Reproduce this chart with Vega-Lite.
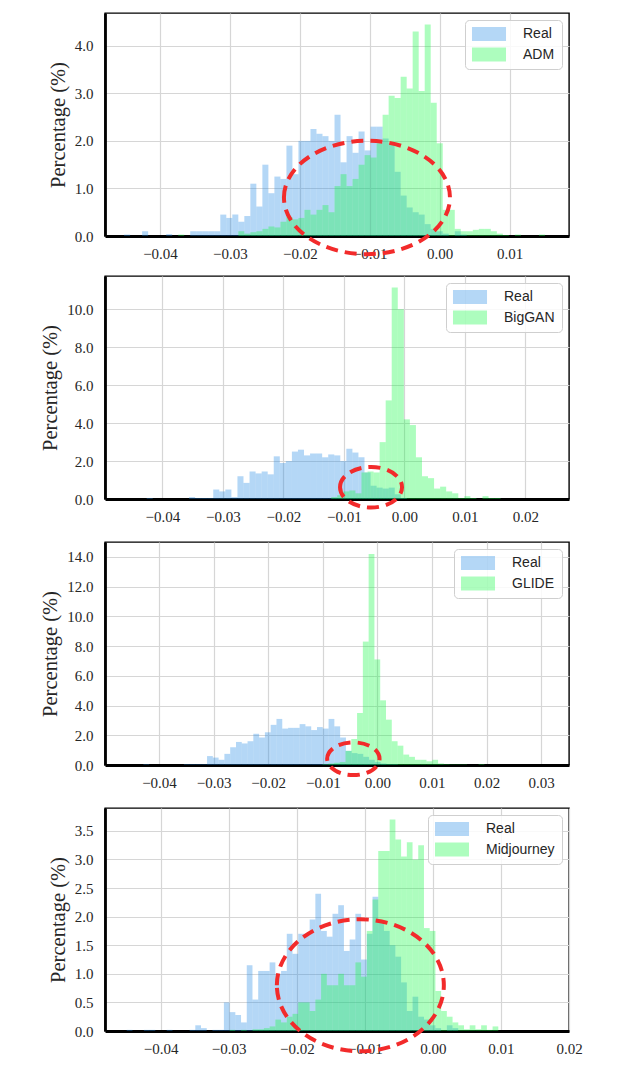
{
  "$schema": "https://vega.github.io/schema/vega-lite/v6.json",
  "background": "white",
  "padding": {"left": 40, "top": 12, "right": 4, "bottom": 4},
  "config": {
    "view": {"stroke": "#000000", "strokeWidth": 1.4},
    "axis": {
      "grid": true, "gridColor": "#d6d6d6", "gridWidth": 1.2,
      "domainColor": "#000000", "domainWidth": 2.8,
      "ticks": false, "tickSize": 0, "tickCount": 20,
      "labelFont": "Liberation Serif", "labelFontSize": 15, "labelColor": "#262626",
      "labelOverlap": false, "labelFlush": false, "labelBound": false,
      "titleFont": "Liberation Serif", "titleFontSize": 20.5, "titleFontWeight": "normal", "titleColor": "#262626"
    },
    "axisX": {"labelPadding": 10},
    "axisY": {"labelPadding": 12, "titlePadding": 6},
    "legend": {
      "orient": "top-right", "offset": 7, "title": null, "padding": 7,
      "fillColor": "rgba(255,255,255,0.85)", "strokeColor": "#cfcfcf", "cornerRadius": 4,
      "labelFont": "Liberation Sans", "labelFontSize": 14, "labelColor": "#262626",
      "symbolType": "M-2.43,-1H2.43V1H-2.43Z", "symbolSize": 196,
      "symbolOffset": 10, "labelOffset": 27, "rowPadding": 6.5,
      "symbolOpacity": 0.35, "symbolStrokeWidth": 0
    }
  },
  "datasets": {
    "h1": [
      {"s":"ADM","a":-0.0374,"b":-0.03654,"v":0.03},
      {"s":"ADM","a":-0.0288,"b":-0.02794,"v":0.1},
      {"s":"ADM","a":-0.02794,"b":-0.02708,"v":0.05},
      {"s":"ADM","a":-0.02708,"b":-0.02622,"v":0.08},
      {"s":"ADM","a":-0.02622,"b":-0.02536,"v":0.1},
      {"s":"ADM","a":-0.02536,"b":-0.0245,"v":0.15},
      {"s":"ADM","a":-0.0245,"b":-0.02364,"v":0.2},
      {"s":"ADM","a":-0.02364,"b":-0.02278,"v":0.18},
      {"s":"ADM","a":-0.02278,"b":-0.02192,"v":0.3},
      {"s":"ADM","a":-0.02192,"b":-0.02106,"v":0.4},
      {"s":"ADM","a":-0.02106,"b":-0.0202,"v":0.35},
      {"s":"ADM","a":-0.0202,"b":-0.01934,"v":0.38},
      {"s":"ADM","a":-0.01934,"b":-0.01848,"v":0.55},
      {"s":"ADM","a":-0.01848,"b":-0.01762,"v":0.45},
      {"s":"ADM","a":-0.01762,"b":-0.01676,"v":0.55},
      {"s":"ADM","a":-0.01676,"b":-0.0159,"v":0.65},
      {"s":"ADM","a":-0.0159,"b":-0.01504,"v":0.5},
      {"s":"ADM","a":-0.01504,"b":-0.01418,"v":1.05},
      {"s":"ADM","a":-0.01418,"b":-0.01332,"v":1.3},
      {"s":"ADM","a":-0.01332,"b":-0.01246,"v":1.05},
      {"s":"ADM","a":-0.01246,"b":-0.0116,"v":1.2},
      {"s":"ADM","a":-0.0116,"b":-0.01074,"v":1.5},
      {"s":"ADM","a":-0.01074,"b":-0.00988,"v":1.7},
      {"s":"ADM","a":-0.00988,"b":-0.00902,"v":1.65},
      {"s":"ADM","a":-0.00902,"b":-0.00816,"v":1.95},
      {"s":"ADM","a":-0.00816,"b":-0.0073,"v":2.55},
      {"s":"ADM","a":-0.0073,"b":-0.00644,"v":2.95},
      {"s":"ADM","a":-0.00644,"b":-0.00558,"v":2.9},
      {"s":"ADM","a":-0.00558,"b":-0.00472,"v":3.35},
      {"s":"ADM","a":-0.00472,"b":-0.00386,"v":3.1},
      {"s":"ADM","a":-0.00386,"b":-0.003,"v":4.3},
      {"s":"ADM","a":-0.003,"b":-0.00214,"v":3.05},
      {"s":"ADM","a":-0.00214,"b":-0.00128,"v":4.45},
      {"s":"ADM","a":-0.00128,"b":-0.00042,"v":2.8},
      {"s":"ADM","a":-0.00042,"b":0.00044,"v":1.95},
      {"s":"ADM","a":0.00044,"b":0.0013,"v":0.55},
      {"s":"ADM","a":0.0013,"b":0.00216,"v":0.55},
      {"s":"ADM","a":0.00216,"b":0.00302,"v":0.15},
      {"s":"ADM","a":0.00302,"b":0.00388,"v":0.1},
      {"s":"ADM","a":0.00388,"b":0.00474,"v":0.1},
      {"s":"ADM","a":0.00474,"b":0.0056,"v":0.13},
      {"s":"ADM","a":0.0056,"b":0.00646,"v":0.15},
      {"s":"ADM","a":0.00646,"b":0.00732,"v":0.15},
      {"s":"ADM","a":0.00732,"b":0.00818,"v":0.1},
      {"s":"ADM","a":0.00818,"b":0.00904,"v":0.05},
      {"s":"ADM","a":0.00904,"b":0.0099,"v":0.02},
      {"s":"ADM","a":0.01076,"b":0.01162,"v":0.03},
      {"s":"ADM","a":0.0142,"b":0.01506,"v":0.03},
      {"s":"Real","a":-0.04514,"b":-0.04428,"v":0.03},
      {"s":"Real","a":-0.04256,"b":-0.0417,"v":0.1},
      {"s":"Real","a":-0.03912,"b":-0.03826,"v":0.04},
      {"s":"Real","a":-0.03568,"b":-0.03482,"v":0.1},
      {"s":"Real","a":-0.03482,"b":-0.03396,"v":0.1},
      {"s":"Real","a":-0.03396,"b":-0.0331,"v":0.1},
      {"s":"Real","a":-0.0331,"b":-0.03224,"v":0.1},
      {"s":"Real","a":-0.03224,"b":-0.03138,"v":0.1},
      {"s":"Real","a":-0.03138,"b":-0.03052,"v":0.45},
      {"s":"Real","a":-0.03052,"b":-0.02966,"v":0.38},
      {"s":"Real","a":-0.02966,"b":-0.0288,"v":0.45},
      {"s":"Real","a":-0.0288,"b":-0.02794,"v":0.3},
      {"s":"Real","a":-0.02794,"b":-0.02708,"v":0.42},
      {"s":"Real","a":-0.02708,"b":-0.02622,"v":1.1},
      {"s":"Real","a":-0.02622,"b":-0.02536,"v":0.62},
      {"s":"Real","a":-0.02536,"b":-0.0245,"v":1.5},
      {"s":"Real","a":-0.0245,"b":-0.02364,"v":0.9},
      {"s":"Real","a":-0.02364,"b":-0.02278,"v":1.25},
      {"s":"Real","a":-0.02278,"b":-0.02192,"v":1.2},
      {"s":"Real","a":-0.02192,"b":-0.02106,"v":1.9},
      {"s":"Real","a":-0.02106,"b":-0.0202,"v":1.3},
      {"s":"Real","a":-0.0202,"b":-0.01934,"v":2.0},
      {"s":"Real","a":-0.01934,"b":-0.01848,"v":2.0},
      {"s":"Real","a":-0.01848,"b":-0.01762,"v":2.25},
      {"s":"Real","a":-0.01762,"b":-0.01676,"v":2.15},
      {"s":"Real","a":-0.01676,"b":-0.0159,"v":2.1},
      {"s":"Real","a":-0.0159,"b":-0.01504,"v":2.0},
      {"s":"Real","a":-0.01504,"b":-0.01418,"v":2.55},
      {"s":"Real","a":-0.01418,"b":-0.01332,"v":1.55},
      {"s":"Real","a":-0.01332,"b":-0.01246,"v":2.1},
      {"s":"Real","a":-0.01246,"b":-0.0116,"v":1.75},
      {"s":"Real","a":-0.0116,"b":-0.01074,"v":2.2},
      {"s":"Real","a":-0.01074,"b":-0.00988,"v":1.8},
      {"s":"Real","a":-0.00988,"b":-0.00902,"v":2.3},
      {"s":"Real","a":-0.00902,"b":-0.00816,"v":2.3},
      {"s":"Real","a":-0.00816,"b":-0.0073,"v":2.05},
      {"s":"Real","a":-0.0073,"b":-0.00644,"v":1.95},
      {"s":"Real","a":-0.00644,"b":-0.00558,"v":1.35},
      {"s":"Real","a":-0.00558,"b":-0.00472,"v":0.85},
      {"s":"Real","a":-0.00472,"b":-0.00386,"v":0.6},
      {"s":"Real","a":-0.00386,"b":-0.003,"v":0.5},
      {"s":"Real","a":-0.003,"b":-0.00214,"v":0.45},
      {"s":"Real","a":-0.00214,"b":-0.00128,"v":0.25},
      {"s":"Real","a":-0.00128,"b":-0.00042,"v":0.15},
      {"s":"Real","a":-0.00042,"b":0.00044,"v":0.1},
      {"s":"Real","a":0.00044,"b":0.0013,"v":0.05},
      {"s":"Real","a":0.00216,"b":0.00302,"v":0.1},
      {"s":"Real","a":0.00302,"b":0.00388,"v":0.03}
    ],
    "h2": [
      {"s":"BigGAN","a":-0.0121,"b":-0.0111,"v":0.1},
      {"s":"BigGAN","a":-0.0111,"b":-0.0101,"v":0.2},
      {"s":"BigGAN","a":-0.0101,"b":-0.0091,"v":0.4},
      {"s":"BigGAN","a":-0.0091,"b":-0.0081,"v":0.45},
      {"s":"BigGAN","a":-0.0081,"b":-0.0071,"v":0.3},
      {"s":"BigGAN","a":-0.0071,"b":-0.0061,"v":1.4},
      {"s":"BigGAN","a":-0.0061,"b":-0.0051,"v":1.45},
      {"s":"BigGAN","a":-0.0051,"b":-0.0041,"v":1.4},
      {"s":"BigGAN","a":-0.0041,"b":-0.0031,"v":3.0},
      {"s":"BigGAN","a":-0.0031,"b":-0.0021,"v":5.2},
      {"s":"BigGAN","a":-0.0021,"b":-0.0011,"v":11.15},
      {"s":"BigGAN","a":-0.0011,"b":-0.0001,"v":10.0},
      {"s":"BigGAN","a":-0.0001,"b":0.0009,"v":4.2},
      {"s":"BigGAN","a":0.0009,"b":0.0019,"v":3.9},
      {"s":"BigGAN","a":0.0019,"b":0.0029,"v":2.2},
      {"s":"BigGAN","a":0.0029,"b":0.0039,"v":1.2},
      {"s":"BigGAN","a":0.0039,"b":0.0049,"v":1.1},
      {"s":"BigGAN","a":0.0049,"b":0.0059,"v":0.55},
      {"s":"BigGAN","a":0.0059,"b":0.0069,"v":0.65},
      {"s":"BigGAN","a":0.0069,"b":0.0079,"v":0.4},
      {"s":"BigGAN","a":0.0079,"b":0.0089,"v":0.3},
      {"s":"BigGAN","a":0.0089,"b":0.0099,"v":0.05},
      {"s":"BigGAN","a":0.0099,"b":0.0109,"v":0.15},
      {"s":"BigGAN","a":0.0109,"b":0.0119,"v":0.05},
      {"s":"BigGAN","a":0.0129,"b":0.0139,"v":0.15},
      {"s":"BigGAN","a":0.0139,"b":0.0149,"v":0.05},
      {"s":"BigGAN","a":0.0149,"b":0.0159,"v":0.05},
      {"s":"Real","a":-0.0426,"b":-0.0416,"v":0.05},
      {"s":"Real","a":-0.0356,"b":-0.0346,"v":0.1},
      {"s":"Real","a":-0.0346,"b":-0.0336,"v":0.05},
      {"s":"Real","a":-0.0336,"b":-0.0326,"v":0.05},
      {"s":"Real","a":-0.0326,"b":-0.0316,"v":0.05},
      {"s":"Real","a":-0.0316,"b":-0.0306,"v":0.5},
      {"s":"Real","a":-0.0306,"b":-0.0296,"v":0.4},
      {"s":"Real","a":-0.0296,"b":-0.0286,"v":0.5},
      {"s":"Real","a":-0.0286,"b":-0.0276,"v":0.1},
      {"s":"Real","a":-0.0276,"b":-0.0266,"v":1.2},
      {"s":"Real","a":-0.0266,"b":-0.0256,"v":0.85},
      {"s":"Real","a":-0.0256,"b":-0.0246,"v":1.45},
      {"s":"Real","a":-0.0246,"b":-0.0236,"v":1.35},
      {"s":"Real","a":-0.0236,"b":-0.0226,"v":1.45},
      {"s":"Real","a":-0.0226,"b":-0.0216,"v":1.3},
      {"s":"Real","a":-0.0216,"b":-0.0206,"v":2.25},
      {"s":"Real","a":-0.0206,"b":-0.0196,"v":1.9},
      {"s":"Real","a":-0.0196,"b":-0.0186,"v":2.0},
      {"s":"Real","a":-0.0186,"b":-0.0176,"v":2.5},
      {"s":"Real","a":-0.0176,"b":-0.0166,"v":2.6},
      {"s":"Real","a":-0.0166,"b":-0.0156,"v":2.3},
      {"s":"Real","a":-0.0156,"b":-0.0146,"v":2.4},
      {"s":"Real","a":-0.0146,"b":-0.0136,"v":2.4},
      {"s":"Real","a":-0.0136,"b":-0.0126,"v":2.2},
      {"s":"Real","a":-0.0126,"b":-0.0116,"v":2.35},
      {"s":"Real","a":-0.0116,"b":-0.0106,"v":2.3},
      {"s":"Real","a":-0.0106,"b":-0.0096,"v":2.0},
      {"s":"Real","a":-0.0096,"b":-0.0086,"v":2.65},
      {"s":"Real","a":-0.0086,"b":-0.0076,"v":2.45},
      {"s":"Real","a":-0.0076,"b":-0.0066,"v":2.2},
      {"s":"Real","a":-0.0066,"b":-0.0056,"v":1.4},
      {"s":"Real","a":-0.0056,"b":-0.0046,"v":0.7},
      {"s":"Real","a":-0.0046,"b":-0.0036,"v":0.6},
      {"s":"Real","a":-0.0036,"b":-0.0026,"v":0.55},
      {"s":"Real","a":-0.0026,"b":-0.0016,"v":0.6},
      {"s":"Real","a":-0.0016,"b":-0.0006,"v":0.25},
      {"s":"Real","a":-0.0006,"b":0.0004,"v":0.05}
    ],
    "h3": [
      {"s":"GLIDE","a":-0.01008,"b":-0.00902,"v":0.05},
      {"s":"GLIDE","a":-0.00902,"b":-0.00796,"v":0.1},
      {"s":"GLIDE","a":-0.00796,"b":-0.0069,"v":0.15},
      {"s":"GLIDE","a":-0.0069,"b":-0.00584,"v":0.2},
      {"s":"GLIDE","a":-0.00584,"b":-0.00478,"v":0.95},
      {"s":"GLIDE","a":-0.00478,"b":-0.00372,"v":1.75},
      {"s":"GLIDE","a":-0.00372,"b":-0.00266,"v":3.5},
      {"s":"GLIDE","a":-0.00266,"b":-0.0016,"v":8.3},
      {"s":"GLIDE","a":-0.0016,"b":-0.00054,"v":14.2},
      {"s":"GLIDE","a":-0.00054,"b":0.00052,"v":7.1},
      {"s":"GLIDE","a":0.00052,"b":0.00158,"v":4.35},
      {"s":"GLIDE","a":0.00158,"b":0.00264,"v":3.05},
      {"s":"GLIDE","a":0.00264,"b":0.0037,"v":1.6},
      {"s":"GLIDE","a":0.0037,"b":0.00476,"v":1.3},
      {"s":"GLIDE","a":0.00476,"b":0.00582,"v":0.7},
      {"s":"GLIDE","a":0.00582,"b":0.00688,"v":0.55},
      {"s":"GLIDE","a":0.00688,"b":0.00794,"v":0.35},
      {"s":"GLIDE","a":0.00794,"b":0.009,"v":0.35},
      {"s":"GLIDE","a":0.009,"b":0.01006,"v":0.25},
      {"s":"GLIDE","a":0.01006,"b":0.01112,"v":0.35},
      {"s":"GLIDE","a":0.01112,"b":0.01218,"v":0.1},
      {"s":"GLIDE","a":0.01218,"b":0.01324,"v":0.05},
      {"s":"GLIDE","a":0.01324,"b":0.0143,"v":0.03},
      {"s":"GLIDE","a":0.0143,"b":0.01536,"v":0.03},
      {"s":"GLIDE","a":0.01536,"b":0.01642,"v":0.03},
      {"s":"GLIDE","a":0.01854,"b":0.0196,"v":0.05},
      {"s":"Real","a":-0.04286,"b":-0.0418,"v":0.05},
      {"s":"Real","a":-0.03544,"b":-0.03438,"v":0.05},
      {"s":"Real","a":-0.03438,"b":-0.03332,"v":0.05},
      {"s":"Real","a":-0.03332,"b":-0.03226,"v":0.05},
      {"s":"Real","a":-0.03226,"b":-0.0312,"v":0.05},
      {"s":"Real","a":-0.0312,"b":-0.03014,"v":0.6},
      {"s":"Real","a":-0.03014,"b":-0.02908,"v":0.5},
      {"s":"Real","a":-0.02908,"b":-0.02802,"v":0.35},
      {"s":"Real","a":-0.02802,"b":-0.02696,"v":0.75},
      {"s":"Real","a":-0.02696,"b":-0.0259,"v":1.2},
      {"s":"Real","a":-0.0259,"b":-0.02484,"v":1.55},
      {"s":"Real","a":-0.02484,"b":-0.02378,"v":1.45},
      {"s":"Real","a":-0.02378,"b":-0.02272,"v":1.6},
      {"s":"Real","a":-0.02272,"b":-0.02166,"v":2.1},
      {"s":"Real","a":-0.02166,"b":-0.0206,"v":1.85},
      {"s":"Real","a":-0.0206,"b":-0.01954,"v":2.2},
      {"s":"Real","a":-0.01954,"b":-0.01848,"v":2.7},
      {"s":"Real","a":-0.01848,"b":-0.01742,"v":3.1},
      {"s":"Real","a":-0.01742,"b":-0.01636,"v":2.45},
      {"s":"Real","a":-0.01636,"b":-0.0153,"v":2.5},
      {"s":"Real","a":-0.0153,"b":-0.01424,"v":2.5},
      {"s":"Real","a":-0.01424,"b":-0.01318,"v":2.75},
      {"s":"Real","a":-0.01318,"b":-0.01212,"v":2.6},
      {"s":"Real","a":-0.01212,"b":-0.01106,"v":2.35},
      {"s":"Real","a":-0.01106,"b":-0.01,"v":2.55},
      {"s":"Real","a":-0.01,"b":-0.00894,"v":2.45},
      {"s":"Real","a":-0.00894,"b":-0.00788,"v":3.1},
      {"s":"Real","a":-0.00788,"b":-0.00682,"v":2.6},
      {"s":"Real","a":-0.00682,"b":-0.00576,"v":1.85},
      {"s":"Real","a":-0.00576,"b":-0.0047,"v":0.95},
      {"s":"Real","a":-0.0047,"b":-0.00364,"v":0.8},
      {"s":"Real","a":-0.00364,"b":-0.00258,"v":0.75},
      {"s":"Real","a":-0.00258,"b":-0.00152,"v":0.55},
      {"s":"Real","a":-0.00152,"b":-0.00046,"v":0.35},
      {"s":"Real","a":-0.00046,"b":0.0006,"v":0.2},
      {"s":"Real","a":0.0006,"b":0.00166,"v":0.1},
      {"s":"Real","a":0.00166,"b":0.00272,"v":0.05},
      {"s":"Real","a":0.00272,"b":0.00378,"v":0.05}
    ],
    "h4": [
      {"s":"Midjourney","a":-0.02987,"b":-0.02903,"v":0.02},
      {"s":"Midjourney","a":-0.02819,"b":-0.02735,"v":0.02},
      {"s":"Midjourney","a":-0.02651,"b":-0.02567,"v":0.03},
      {"s":"Midjourney","a":-0.02567,"b":-0.02483,"v":0.03},
      {"s":"Midjourney","a":-0.02483,"b":-0.02399,"v":0.05},
      {"s":"Midjourney","a":-0.02399,"b":-0.02315,"v":0.08},
      {"s":"Midjourney","a":-0.02315,"b":-0.02231,"v":0.2},
      {"s":"Midjourney","a":-0.02231,"b":-0.02147,"v":0.15},
      {"s":"Midjourney","a":-0.02147,"b":-0.02063,"v":0.25},
      {"s":"Midjourney","a":-0.02063,"b":-0.01979,"v":0.3},
      {"s":"Midjourney","a":-0.01979,"b":-0.01895,"v":0.5},
      {"s":"Midjourney","a":-0.01895,"b":-0.01811,"v":0.5},
      {"s":"Midjourney","a":-0.01811,"b":-0.01727,"v":0.35},
      {"s":"Midjourney","a":-0.01727,"b":-0.01643,"v":0.55},
      {"s":"Midjourney","a":-0.01643,"b":-0.01559,"v":1.0},
      {"s":"Midjourney","a":-0.01559,"b":-0.01475,"v":0.8},
      {"s":"Midjourney","a":-0.01475,"b":-0.01391,"v":0.8},
      {"s":"Midjourney","a":-0.01391,"b":-0.01307,"v":1.0},
      {"s":"Midjourney","a":-0.01307,"b":-0.01223,"v":0.8},
      {"s":"Midjourney","a":-0.01223,"b":-0.01139,"v":0.8},
      {"s":"Midjourney","a":-0.01139,"b":-0.01055,"v":1.2},
      {"s":"Midjourney","a":-0.01055,"b":-0.00971,"v":0.95},
      {"s":"Midjourney","a":-0.00971,"b":-0.00887,"v":1.75},
      {"s":"Midjourney","a":-0.00887,"b":-0.00803,"v":2.3},
      {"s":"Midjourney","a":-0.00803,"b":-0.00719,"v":3.15},
      {"s":"Midjourney","a":-0.00719,"b":-0.00635,"v":3.15},
      {"s":"Midjourney","a":-0.00635,"b":-0.00551,"v":3.7},
      {"s":"Midjourney","a":-0.00551,"b":-0.00467,"v":3.35},
      {"s":"Midjourney","a":-0.00467,"b":-0.00383,"v":3.05},
      {"s":"Midjourney","a":-0.00383,"b":-0.00299,"v":3.3},
      {"s":"Midjourney","a":-0.00299,"b":-0.00215,"v":3.0},
      {"s":"Midjourney","a":-0.00215,"b":-0.00131,"v":3.25},
      {"s":"Midjourney","a":-0.00131,"b":-0.00047,"v":1.8},
      {"s":"Midjourney","a":-0.00047,"b":0.00037,"v":1.75},
      {"s":"Midjourney","a":0.00037,"b":0.00121,"v":0.7},
      {"s":"Midjourney","a":0.00121,"b":0.00205,"v":0.35},
      {"s":"Midjourney","a":0.00205,"b":0.00289,"v":0.25},
      {"s":"Midjourney","a":0.00289,"b":0.00373,"v":0.15},
      {"s":"Midjourney","a":0.00373,"b":0.00457,"v":0.1},
      {"s":"Midjourney","a":0.00457,"b":0.00541,"v":0.03},
      {"s":"Midjourney","a":0.00541,"b":0.00625,"v":0.1},
      {"s":"Midjourney","a":0.00625,"b":0.00709,"v":0.03},
      {"s":"Midjourney","a":0.00709,"b":0.00793,"v":0.1},
      {"s":"Midjourney","a":0.00793,"b":0.00877,"v":0.02},
      {"s":"Midjourney","a":0.00877,"b":0.00961,"v":0.08},
      {"s":"Real","a":-0.04499,"b":-0.04415,"v":0.02},
      {"s":"Real","a":-0.04247,"b":-0.04163,"v":0.02},
      {"s":"Real","a":-0.04163,"b":-0.04079,"v":0.02},
      {"s":"Real","a":-0.03911,"b":-0.03827,"v":0.02},
      {"s":"Real","a":-0.03575,"b":-0.03491,"v":0.02},
      {"s":"Real","a":-0.03491,"b":-0.03407,"v":0.1},
      {"s":"Real","a":-0.03407,"b":-0.03323,"v":0.05},
      {"s":"Real","a":-0.03239,"b":-0.03155,"v":0.02},
      {"s":"Real","a":-0.03155,"b":-0.03071,"v":0.02},
      {"s":"Real","a":-0.03071,"b":-0.02987,"v":0.5},
      {"s":"Real","a":-0.02987,"b":-0.02903,"v":0.33},
      {"s":"Real","a":-0.02903,"b":-0.02819,"v":0.28},
      {"s":"Real","a":-0.02819,"b":-0.02735,"v":0.15},
      {"s":"Real","a":-0.02735,"b":-0.02651,"v":1.15},
      {"s":"Real","a":-0.02651,"b":-0.02567,"v":0.55},
      {"s":"Real","a":-0.02567,"b":-0.02483,"v":1.05},
      {"s":"Real","a":-0.02483,"b":-0.02399,"v":1.05},
      {"s":"Real","a":-0.02399,"b":-0.02315,"v":1.2},
      {"s":"Real","a":-0.02315,"b":-0.02231,"v":1.0},
      {"s":"Real","a":-0.02231,"b":-0.02147,"v":1.05},
      {"s":"Real","a":-0.02147,"b":-0.02063,"v":1.7},
      {"s":"Real","a":-0.02063,"b":-0.01979,"v":1.35},
      {"s":"Real","a":-0.01979,"b":-0.01895,"v":1.7},
      {"s":"Real","a":-0.01895,"b":-0.01811,"v":1.7},
      {"s":"Real","a":-0.01811,"b":-0.01727,"v":1.95},
      {"s":"Real","a":-0.01727,"b":-0.01643,"v":2.4},
      {"s":"Real","a":-0.01643,"b":-0.01559,"v":1.75},
      {"s":"Real","a":-0.01559,"b":-0.01475,"v":1.65},
      {"s":"Real","a":-0.01475,"b":-0.01391,"v":2.05},
      {"s":"Real","a":-0.01391,"b":-0.01307,"v":2.2},
      {"s":"Real","a":-0.01307,"b":-0.01223,"v":1.4},
      {"s":"Real","a":-0.01223,"b":-0.01139,"v":1.6},
      {"s":"Real","a":-0.01139,"b":-0.01055,"v":2.05},
      {"s":"Real","a":-0.01055,"b":-0.00971,"v":1.25},
      {"s":"Real","a":-0.00971,"b":-0.00887,"v":1.7},
      {"s":"Real","a":-0.00887,"b":-0.00803,"v":2.35},
      {"s":"Real","a":-0.00803,"b":-0.00719,"v":1.9},
      {"s":"Real","a":-0.00719,"b":-0.00635,"v":1.75},
      {"s":"Real","a":-0.00635,"b":-0.00551,"v":1.5},
      {"s":"Real","a":-0.00551,"b":-0.00467,"v":1.3},
      {"s":"Real","a":-0.00467,"b":-0.00383,"v":0.85},
      {"s":"Real","a":-0.00383,"b":-0.00299,"v":0.35},
      {"s":"Real","a":-0.00299,"b":-0.00215,"v":0.6},
      {"s":"Real","a":-0.00215,"b":-0.00131,"v":0.25},
      {"s":"Real","a":-0.00131,"b":-0.00047,"v":0.2},
      {"s":"Real","a":-0.00047,"b":0.00037,"v":0.1},
      {"s":"Real","a":0.00037,"b":0.00121,"v":0.05},
      {"s":"Real","a":0.00205,"b":0.00289,"v":0.1},
      {"s":"Real","a":0.00289,"b":0.00373,"v":0.05}
    ],
    "rings": [
      {"p":1,"cx":-0.0104,"cy":0.81},
      {"p":2,"cx":-0.00552,"cy":0.62},
      {"p":3,"cx":-0.0044,"cy":0.42},
      {"p":4,"cx":-0.01066,"cy":0.80}
    ]
  },
  "resolve": {"scale": {"color": "independent"}, "legend": {"color": "independent"}},
  "columns": 1,
  "spacing": 12,
  "concat": [
    {
      "width": 464, "height": 223,
      "layer": [
        {
          "data": {"name": "h1"},
          "mark": {"type": "bar", "opacity": 0.35},
          "encoding": {
            "x": {"field": "a", "type": "quantitative", "scale": {"domain": [-0.04787, 0.0185], "nice": false, "zero": false},
                  "axis": {"values": [-0.04, -0.03, -0.02, -0.01, 0, 0.01], "format": ".2f", "title": null, "labelOverlap": false, "tickCount": 20}},
            "x2": {"field": "b"},
            "y": {"field": "v", "type": "quantitative", "stack": null, "scale": {"domain": [0, 4.69], "nice": false},
                  "axis": {"values": [0, 1, 2, 3, 4], "format": ".1f", "title": "Percentage (%)", "labelOverlap": false, "tickCount": 20}},
            "y2": {"datum": 0},
            "order": {"field": "s", "sort": "descending"},
            "color": {"field": "s", "type": "nominal", "scale": {"domain": ["Real", "ADM"], "range": ["#288ce6", "#14fa46"]}}
          }
        },
        {
          "data": {"name": "rings"},
          "transform": [{"filter": "datum.p === 1"}],
          "mark": {"type": "point", "shape": "M-1,0A1,0.683 0 1,1 1,0A1,0.683 0 1,1 -1,0Z", "size": 27556, "filled": false, "stroke": "#f22b2b", "strokeWidth": 4, "strokeDash": [12, 7], "opacity": 1},
          "encoding": {"x": {"field": "cx", "type": "quantitative"}, "y": {"field": "cy", "type": "quantitative"}}
        }
      ]
    },
    {
      "resolve": {"scale": {"color": "independent"}, "legend": {"color": "independent"}},
      "columns": 1,
      "spacing": 16,
      "concat": [
        {
          "width": 464, "height": 223,
          "layer": [
            {
              "data": {"name": "h2"},
              "mark": {"type": "bar", "opacity": 0.35},
              "encoding": {
                "x": {"field": "a", "type": "quantitative", "scale": {"domain": [-0.04949, 0.0272], "nice": false, "zero": false},
                      "axis": {"values": [-0.04, -0.03, -0.02, -0.01, 0, 0.01, 0.02], "format": ".2f", "title": null, "labelOverlap": false, "tickCount": 20}},
                "x2": {"field": "b"},
                "y": {"field": "v", "type": "quantitative", "stack": null, "scale": {"domain": [0, 11.76], "nice": false},
                      "axis": {"values": [0, 2, 4, 6, 8, 10], "format": ".1f", "title": "Percentage (%)", "labelOverlap": false, "tickCount": 20}},
                "y2": {"datum": 0},
                "order": {"field": "s", "sort": "descending"},
                "color": {"field": "s", "type": "nominal", "scale": {"domain": ["Real", "BigGAN"], "range": ["#288ce6", "#14fa46"]}}
              }
            },
            {
              "data": {"name": "rings"},
              "transform": [{"filter": "datum.p === 2"}],
              "mark": {"type": "point", "shape": "M-1,0A1,0.655 0 1,1 1,0A1,0.655 0 1,1 -1,0Z", "size": 3844, "filled": false, "stroke": "#f22b2b", "strokeWidth": 4, "strokeDash": [12, 7], "opacity": 1},
              "encoding": {"x": {"field": "cx", "type": "quantitative"}, "y": {"field": "cy", "type": "quantitative"}}
            }
          ]
        },
        {
          "width": 464, "height": 223,
          "layer": [
            {
              "data": {"name": "h3"},
              "mark": {"type": "bar", "opacity": 0.35},
              "encoding": {
                "x": {"field": "a", "type": "quantitative", "scale": {"domain": [-0.04989, 0.0351], "nice": false, "zero": false},
                      "axis": {"values": [-0.04, -0.03, -0.02, -0.01, 0, 0.01, 0.02, 0.03], "format": ".2f", "title": null, "labelOverlap": false, "tickCount": 20}},
                "x2": {"field": "b"},
                "y": {"field": "v", "type": "quantitative", "stack": null, "scale": {"domain": [0, 15.0], "nice": false},
                      "axis": {"values": [0, 2, 4, 6, 8, 10, 12, 14], "format": ".1f", "title": "Percentage (%)", "labelOverlap": false, "tickCount": 20}},
                "y2": {"datum": 0},
                "order": {"field": "s", "sort": "descending"},
                "color": {"field": "s", "type": "nominal", "scale": {"domain": ["Real", "GLIDE"], "range": ["#288ce6", "#14fa46"]}}
              }
            },
            {
              "data": {"name": "rings"},
              "transform": [{"filter": "datum.p === 3"}],
              "mark": {"type": "point", "shape": "M-1,0A1,0.624 0 1,1 1,0A1,0.624 0 1,1 -1,0Z", "size": 2746, "filled": false, "stroke": "#f22b2b", "strokeWidth": 4, "strokeDash": [12, 7], "opacity": 1},
              "encoding": {"x": {"field": "cx", "type": "quantitative"}, "y": {"field": "cy", "type": "quantitative"}}
            }
          ]
        },
        {
          "width": 464, "height": 223,
          "layer": [
            {
              "data": {"name": "h4"},
              "mark": {"type": "bar", "opacity": 0.35},
              "encoding": {
                "x": {"field": "a", "type": "quantitative", "scale": {"domain": [-0.04818, 0.02], "nice": false, "zero": false},
                      "axis": {"values": [-0.04, -0.03, -0.02, -0.01, 0, 0.01, 0.02], "format": ".2f", "title": null, "labelOverlap": false, "tickCount": 20}},
                "x2": {"field": "b"},
                "y": {"field": "v", "type": "quantitative", "stack": null, "scale": {"domain": [0, 3.9], "nice": false},
                      "axis": {"values": [0, 0.5, 1, 1.5, 2, 2.5, 3, 3.5], "format": ".1f", "title": "Percentage (%)", "labelOverlap": false, "tickCount": 20}},
                "y2": {"datum": 0},
                "order": {"field": "s", "sort": "descending"},
                "color": {"field": "s", "type": "nominal", "scale": {"domain": ["Real", "Midjourney"], "range": ["#288ce6", "#14fa46"]}}
              }
            },
            {
              "data": {"name": "rings"},
              "transform": [{"filter": "datum.p === 4"}],
              "mark": {"type": "point", "shape": "M-1,0A1,0.79 0 1,1 1,0A1,0.79 0 1,1 -1,0Z", "size": 27889, "filled": false, "stroke": "#f22b2b", "strokeWidth": 4, "strokeDash": [12, 7], "opacity": 1},
              "encoding": {"x": {"field": "cx", "type": "quantitative"}, "y": {"field": "cy", "type": "quantitative"}}
            }
          ]
        }
      ]
    }
  ]
}
